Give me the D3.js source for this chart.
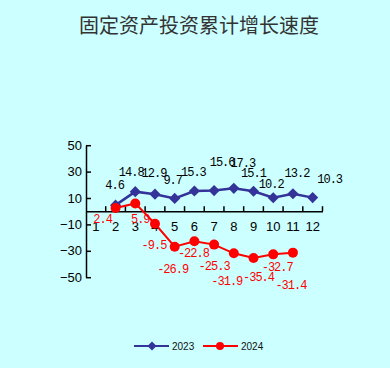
<!DOCTYPE html>
<html>
<head>
<meta charset="utf-8">
<script src="https://cdn.jsdelivr.net/npm/d3@7"></script>
<style>
  body { margin: 0; background: #ccffff; }
  svg { display: block; }
</style>
</head>
<body>
<div id="chart"></div>
<script>
// data
var months = ["1","2","3","4","5","6","7","8","9","10","11","12"];
var months2023 = ["2","3","4","5","6","7","8","9","10","11","12"];
var values2023 = [4.6, 14.8, 12.9, 9.7, 15.3, 15.6, 17.3, 15.1, 10.2, 13.2, 10.3];
var months2024 = ["2","3","4","5","6","7","8","9","10","11"];
var values2024 = [2.4, 5.9, -9.5, -26.9, -22.8, -25.3, -31.9, -35.4, -32.7, -31.4];
var yTicks = [50, 30, 10, -10, -30, -50];
var seriesNames = ["2023", "2024"];

// label nudges (px) so the value labels sit where the original puts them
var off2023 = [[-1,-20],[-4,-20],[-1,-21],[-2,-19],[-1,-19],[8,-29],[9,-26],[0,-18],[-2,-14],[4,-21],[17,-19]];
var off2024 = [[-13,11],[5,15],[-1,21],[-2,22],[-1,12],[0,21],[-7,27],[5,19],[4,12],[-2,32]];

var w = 390, h = 368;
var svg = d3.select("#chart").append("svg")
    .attr("width", w)
    .attr("height", h);

svg.append("rect").attr("width", w).attr("height", h).attr("fill", "#ccffff");

// title
svg.append("text")
    .attr("x", 199)
    .attr("y", 33)
    .attr("text-anchor", "middle")
    .attr("font-family", "'Noto Sans CJK SC', sans-serif")
    .attr("font-size", 20)
    .attr("fill", "#333")
    .text("固定资产投资累计增长速度");

// scales
var x = d3.scaleBand().domain(months).range([86, 322.5]);
var y = d3.scaleLinear().domain([-50, 50]).range([277.2, 145.2]);
var cx = function(m) { return x(m) + x.bandwidth() / 2; };

// y axis
var gy = svg.append("g")
    .attr("transform", "translate(86,0)")
    .call(d3.axisLeft(y).tickValues(yTicks).tickSize(-5).tickSizeOuter(0).tickPadding(4));
gy.select(".domain").attr("stroke", "#000").attr("stroke-width", 1.5);
gy.selectAll(".tick line").attr("stroke", "#000").attr("stroke-width", 1.5);
gy.selectAll("text")
    .attr("font-family", "'Liberation Sans', Arial, sans-serif")
    .attr("font-size", 13)
    .attr("fill", "#000");

// x axis at zero
var gx = svg.append("g")
    .attr("transform", "translate(0," + y(0) + ")")
    .call(d3.axisBottom(x).tickSize(0).tickPadding(11));
gx.select(".domain").attr("stroke", "#000").attr("stroke-width", 1.5);
gx.selectAll("text")
    .attr("font-family", "'Liberation Sans', Arial, sans-serif")
    .attr("font-size", 13)
    .attr("fill", "#000");
gx.selectAll(".sep")
    .data(months)
    .enter().append("line")
    .attr("class", "sep")
    .attr("x1", function(d) { return x(d) + x.bandwidth(); })
    .attr("x2", function(d) { return x(d) + x.bandwidth(); })
    .attr("y1", 0)
    .attr("y2", -5)
    .attr("stroke", "#000")
    .attr("stroke-width", 1.5);

var line = d3.line()
    .x(function(d) { return cx(d[0]); })
    .y(function(d) { return y(d[1]); });

var pts2023 = months2023.map(function(m, i) { return [m, values2023[i]]; });
var pts2024 = months2024.map(function(m, i) { return [m, values2024[i]]; });

// square diamond (rotated square)
var diamond = d3.symbol().type(d3.symbolSquare).size(62);

// 2023
svg.append("path")
    .datum(pts2023)
    .attr("d", line)
    .attr("fill", "none")
    .attr("stroke", "#333399")
    .attr("stroke-width", 2.5);
svg.selectAll(".d2023")
    .data(pts2023)
    .enter().append("path")
    .attr("class", "d2023")
    .attr("d", diamond)
    .attr("transform", function(d) { return "translate(" + cx(d[0]) + "," + y(d[1]) + ") rotate(45)"; })
    .attr("fill", "#333399");

// 2024
svg.append("path")
    .datum(pts2024)
    .attr("d", line)
    .attr("fill", "none")
    .attr("stroke", "#ff0000")
    .attr("stroke-width", 2);
svg.selectAll(".c2024")
    .data(pts2024)
    .enter().append("circle")
    .attr("class", "c2024")
    .attr("cx", function(d) { return cx(d[0]); })
    .attr("cy", function(d) { return y(d[1]); })
    .attr("r", 5)
    .attr("fill", "#ff0000");

// value labels
function labels(pts, offs, color, cls) {
  svg.selectAll("." + cls)
    .data(pts)
    .enter().append("text")
    .attr("class", cls)
    .attr("x", function(d, i) { return cx(d[0]) + offs[i][0]; })
    .attr("y", function(d, i) { return y(d[1]) + offs[i][1]; })
    .attr("dy", "0.35em")
    .attr("text-anchor", "middle")
    .attr("font-family", "'Liberation Mono', monospace")
    .attr("font-size", 12)
    .attr("letter-spacing", -1)
    .attr("fill", color)
    .text(function(d) { return String(d[1]); });
}
labels(pts2023, off2023, "#000", "l2023");
labels(pts2024, off2024, "#ff0000", "l2024");

// legend
var legend = [
  {name: seriesNames[0], color: "#333399", x0: 134},
  {name: seriesNames[1], color: "#ff0000", x0: 203}
];
var ly = 346;
legend.forEach(function(d, i) {
  svg.append("line")
    .attr("x1", d.x0).attr("x2", d.x0 + 35)
    .attr("y1", ly).attr("y2", ly)
    .attr("stroke", d.color).attr("stroke-width", 2);
  if (i === 0) {
    svg.append("path")
      .attr("d", d3.symbol().type(d3.symbolSquare).size(40))
      .attr("transform", "translate(" + (d.x0 + 18) + "," + ly + ") rotate(45)")
      .attr("fill", d.color);
  } else {
    svg.append("circle")
      .attr("cx", d.x0 + 17).attr("cy", ly).attr("r", 4)
      .attr("fill", d.color);
  }
  svg.append("text")
    .attr("x", d.x0 + 38)
    .attr("y", ly)
    .attr("dy", "0.35em")
    .attr("font-family", "'Liberation Sans', Arial, sans-serif")
    .attr("font-size", 10)
    .attr("fill", "#111")
    .text(d.name);
});
</script>
</body>
</html>
